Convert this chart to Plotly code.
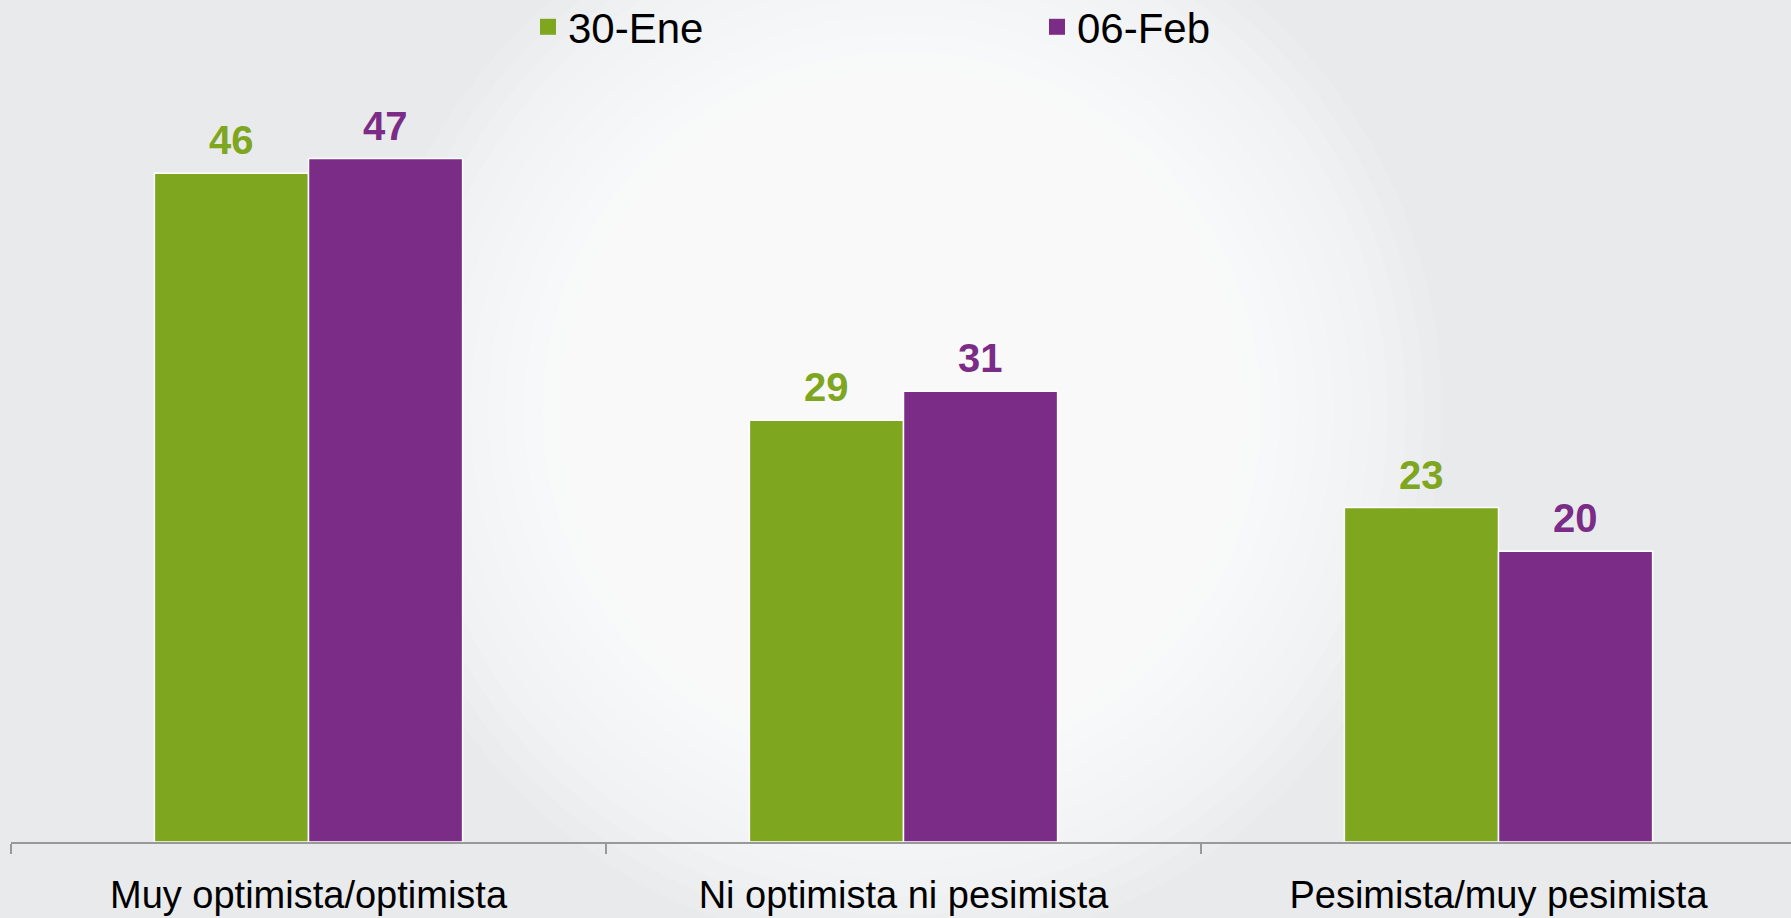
import plotly.graph_objects as go

categories = ['Muy optimista/optimista', 'Ni optimista ni pesimista', 'Pesimista/muy pesimista']
ene30 = [46, 29, 23]
feb06 = [47, 31, 20]
series_names = ['30-Ene', '06-Feb']

GREEN = '#7EA61E'
PURPLE = '#7B2C86'

fig = go.Figure()

# soft radial glow in the background (stack of translucent white circles)
W, H = 1791, 918
L, R, T, B = 11, 0, 115, 76
pw, ph = W - L - R, H - T - B
cx, cy = (902 - L) / pw, (H - B - 411) / ph
for i in range(16):
    rad = 540 - i * 18
    fig.add_shape(type='circle', xref='paper', yref='paper',
                  x0=cx - rad / pw, x1=cx + rad / pw,
                  y0=cy - rad / ph, y1=cy + rad / ph,
                  fillcolor='white', opacity=0.13, line_width=0, layer='below')

for name, vals, col in [(series_names[0], ene30, GREEN), (series_names[1], feb06, PURPLE)]:
    fig.add_trace(go.Bar(
        x=categories, y=vals, name=name, showlegend=False,
        marker=dict(color=col, line=dict(color='white', width=1.5)),
        hoverinfo='x+y'))

# legend entries with bigger square swatches
for name, col in [(series_names[0], GREEN), (series_names[1], PURPLE)]:
    fig.add_trace(go.Scatter(x=[None], y=[None], mode='markers', name=name,
                             marker=dict(symbol='square', size=16, color=col)))

# value labels above each bar
for vals, col, shift in [(ene30, GREEN, -77), (feb06, PURPLE, 77)]:
    for c, v in zip(categories, vals):
        fig.add_annotation(x=c, y=v, text=str(v), showarrow=False,
                           yanchor='bottom', xshift=shift, yshift=9,
                           font=dict(family='Liberation Sans', size=40, color=col, weight='bold'))

fig.update_layout(
    width=W, height=H,
    margin=dict(l=L, r=R, t=T, b=B),
    paper_bgcolor='#e9eaec',
    plot_bgcolor='rgba(0,0,0,0)',
    barmode='group', bargap=0.482, bargroupgap=0,
    font=dict(family='Liberation Sans', color='black'),
    legend=dict(orientation='h', xref='container', yref='container',
                x=528 / W, xanchor='left', y=1 - 27 / H, yanchor='middle',
                entrywidth=464, itemsizing='trace', font=dict(size=42),
                bgcolor='rgba(0,0,0,0)'),
)
fig.update_xaxes(showline=True, linecolor='#999999', linewidth=2,
                 range=[-0.5, 2.4916],
                 ticks='outside', tickson='boundaries', ticklen=10,
                 tickcolor='#999999', tickwidth=2, ticklabelstandoff=18,
                 tickfont=dict(size=38), showgrid=False)
fig.update_yaxes(visible=False, range=[0, 50])

fig.write_html("out.html", config={'displayModeBar': False},
               post_script="document.body.style.margin='0';")
